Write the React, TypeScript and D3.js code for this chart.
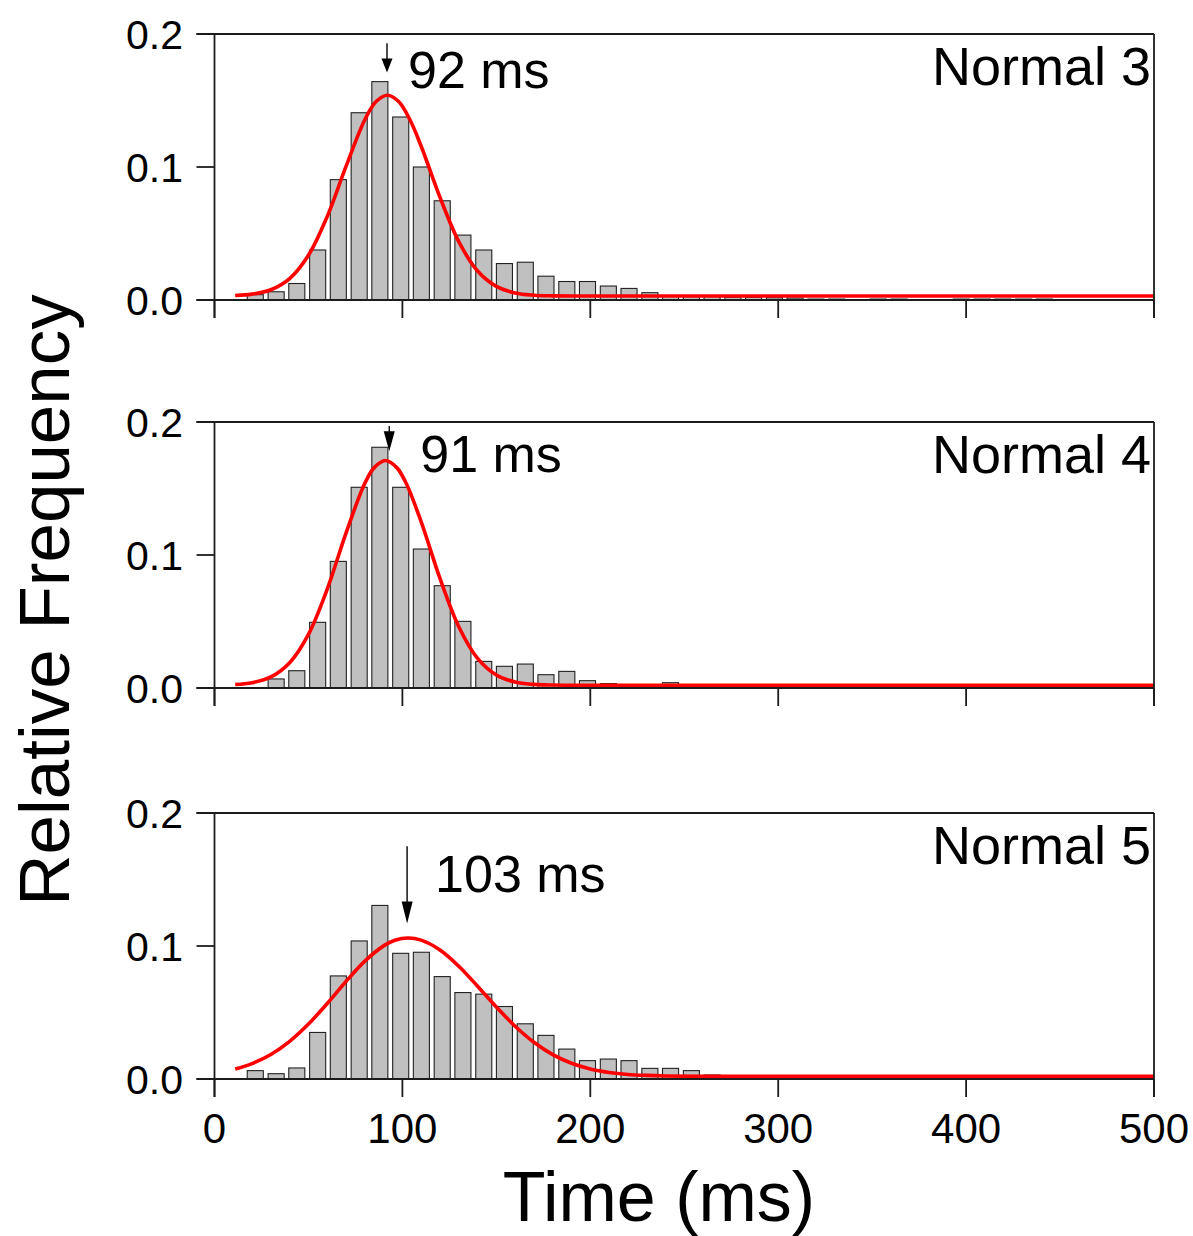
import React from "react";
import * as d3 from "d3";

// ---------- data ----------
const binCenters = [
  21.7, 32.8, 43.8, 54.9, 65.9, 77.0, 88.0, 99.1, 110.1, 121.2,
  132.2, 143.3, 154.3, 165.4, 176.4, 187.5, 198.5, 209.6, 220.6, 231.7,
  242.7, 253.8, 264.8, 275.9, 286.9, 298.0, 309.0, 320.1, 331.1, 342.2,
  353.2, 364.3, 375.3, 386.4, 397.4, 408.5, 419.5, 430.6, 441.6,
];

const normal3Freq = [
  0.004, 0.0062, 0.0124, 0.0376, 0.0905, 0.1408, 0.1642, 0.1376, 0.1, 0.0746,
  0.0488, 0.0376, 0.0274, 0.0284, 0.0179, 0.0139, 0.0139, 0.0105, 0.0087, 0.0055,
  0.003, 0.0025, 0.0025, 0.002, 0.002, 0.0017, 0.0015, 0.0007, 0.0007, 0,
  0.0007, 0.0007, 0, 0, 0.0007, 0.0007, 0.0007, 0.0007, 0.0007,
];

const normal4Freq = [
  0, 0.0068, 0.013, 0.0494, 0.0952, 0.1509, 0.181, 0.1509, 0.1045, 0.0769,
  0.0501, 0.02, 0.0163, 0.018, 0.01, 0.0125, 0.0055, 0.0033, 0.001, 0,
  0.004, 0, 0, 0, 0, 0, 0, 0, 0, 0,
  0, 0, 0, 0, 0, 0, 0, 0, 0,
];

const normal5Freq = [
  0.0063, 0.004, 0.0083, 0.035, 0.0775, 0.1038, 0.1305, 0.0945, 0.0953, 0.077,
  0.065, 0.0638, 0.0545, 0.0415, 0.0328, 0.0225, 0.0138, 0.015, 0.0138, 0.008,
  0.008, 0.0063, 0.003, 0.0015, 0, 0, 0, 0, 0, 0,
  0, 0, 0, 0, 0, 0, 0, 0, 0,
];

// Gaussian fit curves
const fit3X = [11, 20, 30, 40, 50, 60, 70, 80, 86, 92, 98, 104, 110, 120, 130, 140, 150, 160, 170, 180, 200, 300, 400, 500];
const fit3Y = [0.0034, 0.0044, 0.0077, 0.0161, 0.0336, 0.0628, 0.1004, 0.1355, 0.1492, 0.154, 0.1492, 0.1355, 0.1156, 0.0772, 0.0439, 0.0218, 0.0102, 0.0053, 0.0036, 0.0031, 0.003, 0.003, 0.003, 0.003];

const fit4X = [11, 20, 30, 40, 50, 60, 70, 80, 85, 91, 97, 102, 110, 120, 130, 140, 150, 160, 170, 180, 200, 300, 400, 500];
const fit4Y = [0.0026, 0.004, 0.0083, 0.019, 0.0403, 0.0744, 0.1165, 0.1539, 0.1657, 0.171, 0.1657, 0.1539, 0.1249, 0.0824, 0.0461, 0.0223, 0.0098, 0.0045, 0.0027, 0.0022, 0.002, 0.002, 0.002, 0.002];

const fit5X = [11, 20, 30, 40, 50, 60, 70, 80, 90, 96, 103, 110, 120, 130, 140, 150, 160, 170, 180, 190, 200, 210, 220, 230, 240, 260, 300, 400, 500];
const fit5Y = [0.0075, 0.0116, 0.0184, 0.0283, 0.0413, 0.0568, 0.0733, 0.0886, 0.1001, 0.1043, 0.106, 0.1044, 0.097, 0.0848, 0.0698, 0.0541, 0.0397, 0.0276, 0.0183, 0.0118, 0.0075, 0.0049, 0.0034, 0.0027, 0.0023, 0.002, 0.002, 0.002, 0.002];

const panelNames = ["Normal 3", "Normal 4", "Normal 5"];
const peakLabels = ["92 ms", "91 ms", "103 ms"];
const peakArrowX = [91.8, 93.0, 102.5];
const arrowTopY = [0.193, 0.197, 0.175];
const arrowTipY = [0.171, 0.178, 0.117];

const xTicks = [0, 100, 200, 300, 400, 500];
const yTicks = [0, 0.1, 0.2];
const yTickLabels = ["0.0", "0.1", "0.2"];

// ---------- layout ----------
const W = 1193;
const H = 1236;
const X0 = 214.5;
const X1 = 1154;
const PANEL_TOPS = [34, 422, 813];
const PANEL_H = 266;
const TICK = 18;
const FONT = "'Liberation Sans', Arial, Helvetica, sans-serif";
const AXIS_COLOR = "#1c1c1c";
const HEAD_LEN = [14, 20, 22];
const LABEL_DX = [21, 31, 28];
const LABEL_BASE = [54, 50, 79];

const panels = [
  { freq: normal3Freq, fx: fit3X, fy: fit3Y },
  { freq: normal4Freq, fx: fit4X, fy: fit4Y },
  { freq: normal5Freq, fx: fit5X, fy: fit5Y },
];

export default function App() {
  const x = d3.scaleLinear().domain([0, 500]).range([X0, X1]);
  const binStep = x(binCenters[1]) - x(binCenters[0]);
  const barW = binStep * 0.77;

  return (
    <svg
      width={W}
      height={H}
      viewBox={`0 0 ${W} ${H}`}
      style={{ position: "absolute", left: 0, top: 0, display: "block", background: "#fff" }}
      fontFamily={FONT}
    >
      <rect x={0} y={0} width={W} height={H} fill="#fff" />
      {panels.map((p, k) => {
        const top = PANEL_TOPS[k];
        const y = d3.scaleLinear().domain([0, 0.2]).range([top + PANEL_H, top]);
        const line = d3
          .line<number>()
          .x((_, i) => x(p.fx[i]))
          .y((d) => y(d))
          .curve(d3.curveCatmullRom.alpha(0.5));
        const base = y(0);
        const ax = x(peakArrowX[k]);
        const aTop = y(arrowTopY[k]);
        const aTip = y(arrowTipY[k]);
        const hl = HEAD_LEN[k];
        return (
          <g key={k}>
            {/* bars */}
            {p.freq.map((v, i) =>
              v > 0 ? (
                <rect
                  key={i}
                  x={x(binCenters[i]) - barW / 2}
                  y={y(v)}
                  width={barW}
                  height={base - y(v)}
                  fill={base - y(v) < 1.5 ? "#111" : "#c0c0c0"}
                  stroke="#222"
                  strokeWidth={1.1}
                />
              ) : null
            )}
            {/* fit curve */}
            <path d={line(p.fy) || ""} fill="none" stroke="#ff0000" strokeWidth={3.6} strokeLinejoin="round" />
            {/* frame */}
            <line x1={X0 - TICK} x2={X1} y1={top} y2={top} stroke={AXIS_COLOR} strokeWidth={1.8} />
            <line x1={X0 - TICK} x2={X1} y1={base} y2={base} stroke={AXIS_COLOR} strokeWidth={1.8} />
            <line x1={X0} x2={X0} y1={top} y2={base + TICK} stroke={AXIS_COLOR} strokeWidth={1.8} />
            <line x1={X1} x2={X1} y1={top} y2={base + TICK} stroke={AXIS_COLOR} strokeWidth={1.8} />
            {/* y ticks */}
            {yTicks.map((t, i) => (
              <g key={"yt" + i}>
                <line x1={X0 - TICK} x2={X0} y1={y(t)} y2={y(t)} stroke={AXIS_COLOR} strokeWidth={1.8} />
                <text x={183} y={y(t)} dy="0.36em" textAnchor="end" fontSize={41} fill="#000">
                  {yTickLabels[i]}
                </text>
              </g>
            ))}
            {/* x ticks */}
            {xTicks.map((t, i) => (
              <line key={"xt" + i} x1={x(t)} x2={x(t)} y1={base} y2={base + TICK} stroke={AXIS_COLOR} strokeWidth={1.8} />
            ))}
            {k === 2 &&
              xTicks.map((t, i) => (
                <text key={"xl" + i} x={x(t)} y={1143} textAnchor="middle" fontSize={42} fill="#000">
                  {String(t)}
                </text>
              ))}
            {/* arrow */}
            <line x1={ax} x2={ax} y1={aTop} y2={aTip - hl + 1} stroke="#000" strokeWidth={1.4} />
            <path d={`M${ax - 5.5},${aTip - hl} L${ax + 5.5},${aTip - hl} L${ax},${aTip} Z`} fill="#000" />
            {/* labels */}
            <text x={ax + LABEL_DX[k]} y={top + LABEL_BASE[k]} fontSize={52} fill="#000">
              {peakLabels[k]}
            </text>
            <text x={1151} y={top + 51} textAnchor="end" fontSize={54} fill="#000">
              {panelNames[k]}
            </text>
          </g>
        );
      })}
      <text x={659} y={1221} textAnchor="middle" fontSize={70} fill="#000">
        Time (ms)
      </text>
      <text
        x={0}
        y={0}
        transform="translate(69,600) rotate(-90)"
        textAnchor="middle"
        fontSize={71}
        fill="#000"
      >
        Relative Frequency
      </text>
    </svg>
  );
}
